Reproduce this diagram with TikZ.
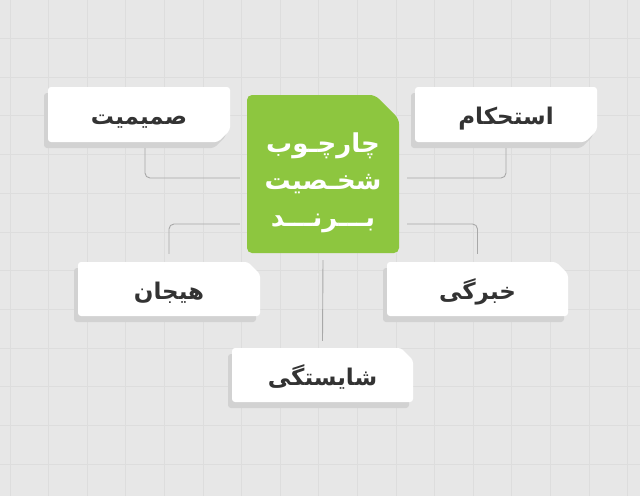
\documentclass[tikz,border=0pt]{standalone}
\usepackage{fontspec}
\setmainfont{DejaVu Sans}
\newfontfamily\fa[Script=Arabic]{DejaVu Sans}
\TeXXeTstate=1
\usetikzlibrary{calc}
\definecolor{bgc}{HTML}{E7E7E7}
\definecolor{gridc}{HTML}{DDDDDD}
\definecolor{shadowc}{HTML}{D2D2D2}
\definecolor{greenc}{HTML}{8DC63F}
\definecolor{txtc}{HTML}{333333}
\definecolor{linec}{HTML}{A8A8A8}
\tikzset{
  gridline/.style={draw=gridc, line width=1pt},
  lbl/.style={inner sep=0pt, text=txtc, font=\fa\bfseries\fontsize{23}{27}\selectfont},
  gtxt/.style={inner sep=0pt, text=white, align=center, font=\fa\bfseries\fontsize{26}{37}\selectfont},
  conn/.style={draw=linec, line width=0.9pt, rounded corners=5pt},
}
% box with chamfered top-right corner
\newcommand{\boxNE}[6]{%
  \fill[shadowc,rounded corners=3pt] ({#2-4},{(#3+#5)/2+6}) -- ({#2-4},{#3+6}) -- ({#4-16},{#3+6}) -- ({#4-4},{#3+18}) -- ({#4-4},{#5+6}) -- ({#2-4},{#5+6}) -- cycle;
  \fill[white,rounded corners=3pt] (#2,{(#3+#5)/2}) -- (#2,#3) -- ({#4-12},#3) -- (#4,{#3+12}) -- (#4,#5) -- (#2,#5) -- cycle;
  \node[lbl,minimum width={#4-#2}, minimum height={#5-#3}] (#1) at ({(#2+#4)/2},{(#3+#5)/2}) {\raisebox{-10pt}[0pt][0pt]{\beginR #6\endR}};
}
% box with chamfered bottom-right corner
\newcommand{\boxSE}[6]{%
  \fill[shadowc,rounded corners=3pt] ({#2-4},{(#3+#5)/2+6}) -- ({#2-4},{#3+6}) -- ({#4-4},{#3+6}) -- ({#4-4},{#5-6}) -- ({#4-16},{#5+6}) -- ({#2-4},{#5+6}) -- cycle;
  \fill[white,rounded corners=3pt] (#2,{(#3+#5)/2}) -- (#2,#3) -- (#4,#3) -- (#4,{#5-12}) -- ({#4-12},#5) -- (#2,#5) -- cycle;
  \node[lbl,minimum width={#4-#2}, minimum height={#5-#3}] (#1) at ({(#2+#4)/2},{(#3+#5)/2}) {\raisebox{-10pt}[0pt][0pt]{\beginR #6\endR}};
}
\begin{document}
\begin{tikzpicture}[x=1pt,y=-1pt]
\useasboundingbox (0,0) rectangle (640,496);
\fill[bgc] (0,0) rectangle (640,496);
\foreach \i in {0,...,16} \draw[gridline] ({10+38.6*\i},0) -- ({10+38.6*\i},496);
\foreach \i in {0,...,11} \draw[gridline] (0,{38.5+38.7*\i}) -- (640,{38.5+38.7*\i});

% centre box
\fill[greenc,rounded corners=5pt] (247,174) -- (247,95) -- (375,95) -- (399,119) -- (399,253) -- (247,253) -- cycle;
\node[gtxt,minimum width=152pt,minimum height=146pt] (green) at (323,183)
  {\beginR چارچـوب\endR\\ \beginR شخـصیت\endR\\ \beginR بـــرنـــد\endR};

\boxSE{sam}{48}{87}{230}{142}{صمیمیت}
\boxSE{est}{415}{87}{597}{142}{استحکام}
\boxNE{hey}{78}{262}{260}{316}{هیجان}
\boxNE{khab}{387}{262}{568}{316}{خبرگی}
\boxNE{shay}{232}{348}{413}{402}{شایستگی}

\draw[conn] ($(sam.south)+(6,6)$) |- ($(green.west)+(-7,-5)$);
\draw[conn] ($(est.south)+(0,6)$) |- ($(green.east)+(8,-5)$);
\draw[conn] ($(green.west)+(-7,41)$) -| ($(hey.north)+(0,-8)$);
\draw[conn] ($(green.east)+(8,41)$) -| ($(khab.north)+(0,-8)$);
\draw[conn] ($(green.south)+(0,4)$) -- ($(shay.north)+(0,-7)$);
\end{tikzpicture}
\end{document}
